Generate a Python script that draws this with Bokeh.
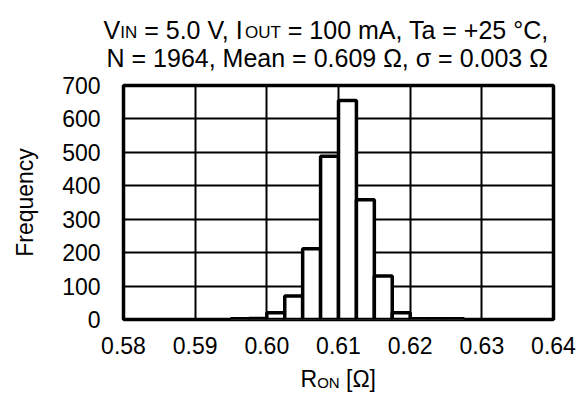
from bokeh.plotting import figure
from bokeh.layouts import column
from bokeh.models import FixedTicker, NumeralTickFormatter, Range1d, ColumnDataSource
from bokeh.core.properties import value
from bokeh.embed import file_html
from bokeh.resources import INLINE

# ---- data ----
bin_left = [0.5950, 0.5975, 0.6000, 0.6025, 0.6050, 0.6075, 0.6100,
            0.6125, 0.6150, 0.6175, 0.6200, 0.6225, 0.6250]
bin_width = 0.0025
counts = [2, 3, 20, 70, 212, 488, 655, 358, 130, 20, 2, 2, 2]
x_ticks = [0.58, 0.59, 0.60, 0.61, 0.62, 0.63, 0.64]
y_ticks = [0, 100, 200, 300, 400, 500, 600, 700]
title_line1 = [("V", False), ("IN", True), (" = 5.0 V, I", False), ("OUT", True),
               (" = 100 mA, Ta = +25 °C,", False)]
title_line2 = [("N = 1964, Mean = 0.609 Ω, σ = 0.003 Ω", False)]
x_label_runs = [("R", False), ("ON", True), (" [Ω]", False)]
y_label = "Frequency"

# ---- style ----
FONT = "Liberation Sans"
TICK = 23
TBIG = 25
TSMALL = 17
XBIG = 23
XSMALL = 15
W = 578
MAIN_TOP, FRAME_H, MAIN_BOT = 13, 234, 45
TOP_H = 72
MAIN_H = MAIN_TOP + FRAME_H + MAIN_BOT
BOT_H = 394 - TOP_H - MAIN_H
K_BASE = 0.36  # centre-anchored text: baseline sits this many em below y

CW = {' ': 278, ',': 278, '.': 278, '=': 584, '+': 584, 'V': 667, 'I': 278, 'N': 722,
      'O': 778, 'U': 722, 'T': 611, 'm': 833, 'A': 667, 'a': 556, '°': 400, 'C': 722,
      'R': 722, '[': 278, ']': 278, 'Ω': 768, 'σ': 600, 'M': 833}


def text_w(s, size):
    return sum(CW.get(c, 556) for c in s) * size / 1000.0


def text_fig(h):
    f = figure(width=W, height=h, output_backend="svg", toolbar_location=None,
               title=None, x_range=Range1d(0, W), y_range=Range1d(0, h),
               x_axis_type=None, y_axis_type=None, min_border=0, frame_align=False)
    f.outline_line_color = None
    f.background_fill_color = "white"
    f.border_fill_color = "white"
    f.grid.visible = False
    return f


def runs_to_cols(runs, cx, y, big, small, cols):
    total = sum(text_w(s, small if sm else big) for s, sm in runs)
    x = cx - total / 2.0
    for s, sm in runs:
        size = small if sm else big
        lead = len(s) - len(s.lstrip(" "))
        cols["x"].append(x + text_w(" " * lead, size))
        cols["y"].append(y + K_BASE * size)
        cols["text"].append(s.strip(" "))
        cols["size"].append(f"{size}px")
        x += text_w(s, size)


def draw_text(f, cols):
    f.text(x="x", y="y", text="text", text_font_size="size", source=ColumnDataSource(cols),
           text_font=value(FONT), text_color="black", text_align="left",
           text_baseline="alphabetic")


# ---- title strip ----
top = text_fig(TOP_H)
tcols = dict(x=[], y=[], text=[], size=[])
runs_to_cols(title_line1, 327, TOP_H - 38, TBIG, TSMALL, tcols)
runs_to_cols(title_line2, 327, TOP_H - 66, TBIG, TSMALL, tcols)
draw_text(top, tcols)

# ---- main histogram ----
p = figure(width=W, height=MAIN_H, output_backend="svg", toolbar_location=None,
           title=None, x_range=Range1d(0.58, 0.64), y_range=Range1d(0, 700),
           min_border_left=123, min_border_right=25, min_border_top=MAIN_TOP,
           min_border_bottom=MAIN_BOT, frame_align=False)
p.background_fill_color = "white"
p.border_fill_color = "white"
p.outline_line_color = "black"
p.outline_line_width = 3.5

src = ColumnDataSource(dict(left=bin_left,
                            right=[b + bin_width for b in bin_left],
                            top=counts))
p.quad(left="left", right="right", bottom=0, top="top", source=src,
       fill_color="white", line_color="black", line_width=3.5)

for ax in (p.xaxis[0], p.yaxis[0]):
    ax.axis_line_color = None
    ax.major_tick_line_color = None
    ax.minor_tick_line_color = None
    ax.major_tick_out = 0
    ax.major_tick_in = 0
    ax.major_label_text_font = FONT
    ax.major_label_text_font_size = f"{TICK}px"
    ax.major_label_text_color = "black"

p.xaxis.ticker = FixedTicker(ticks=x_ticks)
p.xaxis.formatter = NumeralTickFormatter(format="0.00")
p.xaxis.major_label_standoff = 17
p.yaxis.ticker = FixedTicker(ticks=y_ticks)
p.yaxis.major_label_standoff = 23
p.yaxis.axis_label = y_label
p.yaxis.axis_label_text_font = FONT
p.yaxis.axis_label_text_font_size = f"{TICK}px"
p.yaxis.axis_label_text_font_style = "normal"
p.yaxis.axis_label_text_color = "black"
p.yaxis.axis_label_standoff = 21

p.xgrid.ticker = FixedTicker(ticks=x_ticks)
p.ygrid.ticker = FixedTicker(ticks=y_ticks)
for g in (p.xgrid[0], p.ygrid[0]):
    g.grid_line_color = "black"
    g.grid_line_width = 2

# ---- x-axis label strip ----
bot = text_fig(BOT_H)
bcols = dict(x=[], y=[], text=[], size=[])
runs_to_cols(x_label_runs, 338, BOT_H - 23, XBIG, XSMALL, bcols)
draw_text(bot, bcols)

layout = column(top, p, bot, spacing=0)
open("out.html", "w").write(file_html(layout, INLINE))
